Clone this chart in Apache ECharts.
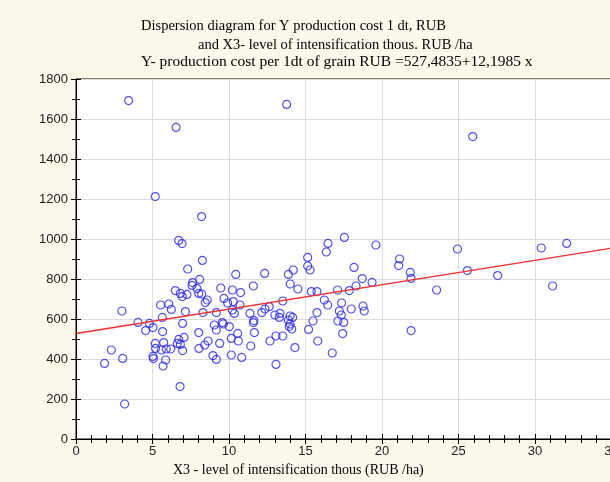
<!DOCTYPE html>
<html>
<head>
<meta charset="utf-8">
<script src="https://cdn.jsdelivr.net/npm/echarts@6/dist/echarts.min.js"></script>
<style>
html,body{margin:0;padding:0;background:#fdf8ec;}
#chart{width:610px;height:482px;}
</style>
</head>
<body>
<div id="chart"></div>
<script>
// titles
var titleLines = [
	'Dispersion diagram for Y production cost 1 dt, RUB',
	'and X3- level of intensification thous. RUB /ha',
	'Y- production cost per 1dt of grain RUB =527,4835+12,1985 x'
];
var xAxisTitle = 'X3 - level of intensification thous (RUB /ha)';

// x3 - level of intensification
var xValues = [1.87, 2.31, 3.0, 3.05, 3.18, 3.44, 4.05, 4.55, 4.8, 5.03, 5.03, 5.06, 5.18, 5.2, 5.18,
	5.53, 6.06, 6.23, 5.64, 5.66, 5.73, 5.58, 5.9, 6.19, 5.86, 5.69, 6.54, 6.71, 6.93, 6.49,
	6.82, 6.95, 7.25, 7.15, 6.97, 6.71, 7.06, 6.82, 6.62, 6.97, 6.8, 7.3, 7.62, 7.58, 7.91,
	8.08, 8.02, 8.21, 8.26, 8.21, 8.58, 8.45, 8.3, 8.02, 8.04, 8.41, 8.63, 9.46, 9.67, 9.91,
	9.17, 9.04, 9.17, 9.56, 9.63, 10.02, 10.15, 9.39, 8.95, 9.17, 10.15, 10.44, 11.59, 10.22, 10.76,
	10.28, 10.72, 10.22, 10.35, 12.33, 11.37, 12.14, 12.35, 12.63, 13.88, 14.2, 14.0, 14.5, 13.51, 13.0,
	13.33, 13.29, 13.99, 14.16, 13.88, 13.99, 13.94, 14.1, 11.63, 11.59, 11.66, 10.57, 10.61, 11.42, 12.68,
	13.07, 13.51, 14.31, 10.83, 13.07, 13.77, 15.14, 15.14, 15.3, 15.38, 15.75, 15.2, 15.49, 15.75, 15.8,
	16.23, 16.45, 16.36, 16.47, 16.75, 17.54, 17.1, 17.86, 17.36, 17.99, 17.21, 17.34, 17.12, 17.5, 17.43,
	18.17, 18.71, 18.3, 18.76, 18.84, 19.35, 19.6, 21.15, 21.09, 21.85, 21.9, 21.9, 23.57, 24.93, 25.58,
	25.93, 27.56, 30.41, 31.15, 32.07];
// Y - production cost per 1 dt, RUB
var yValues = [378, 445, 640, 403, 175, 1692, 583, 542, 578, 557, 413, 402, 478, 453, 1212,
	670, 675, 648, 608, 537, 482, 445, 450, 450, 395, 365, 1558, 993, 977, 742,
	728, 712, 723, 637, 578, 498, 508, 473, 478, 442, 262, 850, 782, 768, 752,
	798, 728, 725, 893, 1112, 695, 682, 632, 532, 453, 470, 490, 755, 703, 680,
	632, 570, 545, 582, 575, 562, 503, 478, 417, 398, 420, 823, 765, 745, 732,
	687, 670, 645, 628, 828, 628, 632, 650, 662, 823, 845, 775, 750, 690, 620,
	628, 608, 615, 608, 595, 575, 562, 550, 592, 582, 532, 528, 490, 465, 490,
	515, 515, 457, 408, 373, 1673, 908, 865, 845, 737, 737, 548, 590, 632, 490,
	695, 670, 935, 978, 430, 1008, 745, 742, 680, 650, 640, 620, 590, 583, 527,
	858, 802, 765, 665, 640, 783, 970, 900, 867, 833, 803, 542, 745, 950, 842,
	1512, 817, 955, 765, 978];
// fitted line ends (x = 0 and x = 35)
var regX = [0, 35];
var regY = [527.5, 954.4];

var xTicks = {min: 0, max: 35, interval: 5};
var yTicks = {min: 0, max: 1800, interval: 200};

var points = [];
for (var i = 0; i < xValues.length; i++) {
	points.push([xValues[i], yValues[i]]);
}
var regLine = [];
for (var j = 0; j < regX.length; j++) {
	regLine.push([regX[j], regY[j]]);
}

var chart = echarts.init(document.getElementById('chart'));
var serif = '"Liberation Serif", "DejaVu Serif", serif';
var sans = '"Liberation Sans", Arial, sans-serif';
var tick = {show: true, inside: true, length: 5, lineStyle: {color: '#000'}};

var titles = [];
var titleLeft = [141, 198, 141];
var titleTop = [19, 38, 54];
var titleSize = [14.5, 14.5, 15.5];
for (var k = 0; k < titleLines.length; k++) {
	titles.push({
		text: titleLines[k],
		left: titleLeft[k],
		top: titleTop[k],
		padding: 0,
		textStyle: {fontFamily: serif, fontSize: titleSize[k], fontWeight: 'normal', color: '#000'}
	});
}

var option = {
	backgroundColor: '#fdf8ec',
	animation: false,
	title: titles,
	grid: {
		left: 76, top: 79, right: -1.5, bottom: 43,
		outerBoundsMode: 'none',
		containLabel: false,
		show: true, backgroundColor: '#fff', borderColor: '#000', borderWidth: 1
	},
	xAxis: [{
		type: 'value', min: xTicks.min, max: xTicks.max, interval: xTicks.interval,
		axisLine: {show: true, onZero: false, lineStyle: {color: '#000'}},
		axisTick: tick,
		minorTick: {show: true, splitNumber: 5, length: 4, lineStyle: {color: '#000'}},
		axisLabel: {fontFamily: sans, fontSize: 13, color: '#222', margin: 6},
		splitLine: {show: true, lineStyle: {color: '#dcdcdc'}}
	}, {
		type: 'value', position: 'top', min: xTicks.min, max: xTicks.max, interval: xTicks.interval,
		axisLine: {show: true, lineStyle: {color: '#000'}},
		axisTick: tick,
		minorTick: {show: true, splitNumber: 5, length: 4, lineStyle: {color: '#000'}},
		axisLabel: {show: false},
		splitLine: {show: false}
	}],
	yAxis: [{
		type: 'value', min: yTicks.min, max: yTicks.max, interval: yTicks.interval,
		axisLine: {show: true, onZero: false, lineStyle: {color: '#000'}},
		axisTick: tick,
		minorTick: {show: true, splitNumber: 2, length: 4, lineStyle: {color: '#000'}},
		axisLabel: {fontFamily: sans, fontSize: 13, color: '#222', margin: 8,
			formatter: function (v) { return String(v); }},
		splitLine: {show: true, lineStyle: {color: '#dcdcdc'}}
	}, {
		type: 'value', position: 'right', min: yTicks.min, max: yTicks.max, interval: yTicks.interval,
		axisLine: {show: true, lineStyle: {color: '#000'}},
		axisTick: tick,
		minorTick: {show: true, splitNumber: 2, length: 4, lineStyle: {color: '#000'}},
		axisLabel: {show: false},
		splitLine: {show: false}
	}],
	graphic: [{
		type: 'text',
		left: 173,
		top: 463,
		style: {text: xAxisTitle, font: '14px ' + serif, fill: '#000'}
	}],
	series: [{
		type: 'scatter',
		data: points,
		symbol: 'circle',
		symbolSize: 8,
		itemStyle: {color: 'rgba(0,0,0,0)', borderColor: '#2424e6', borderWidth: 1.2}
	}, {
		type: 'line',
		data: regLine,
		symbol: 'none',
		silent: true,
		lineStyle: {color: '#f03030', width: 1.3}
	}]
};
chart.setOption(option);
</script>
</body>
</html>
